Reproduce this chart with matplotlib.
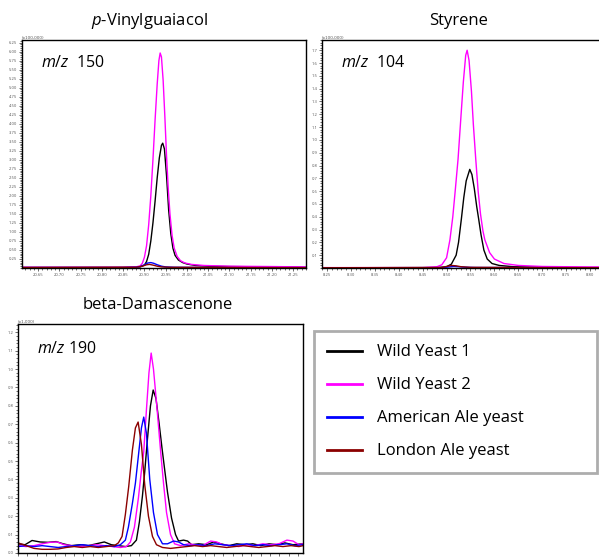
import numpy as np
import matplotlib
matplotlib.use("Agg")
import matplotlib.pyplot as plt
from matplotlib.ticker import MultipleLocator, NullFormatter

plt.rcParams['font.family'] = ['Open Sans', 'DejaVu Sans']
plt.rcParams['mathtext.fontset'] = 'custom'
plt.rcParams['mathtext.rm'] = 'Open Sans'
plt.rcParams['mathtext.it'] = 'Open Sans:italic'

labels = ["Wild Yeast 1", "Wild Yeast 2", "American Ale yeast", "London Ale yeast"]
colors = ["#000000", "#ff00ff", "#0000ff", "#8b0000"]

# p-Vinylguaiacol, m/z 150 (time in min, intensity x100,000)
pvg_t1 = [20.612, 20.85, 20.89, 20.90, 20.905, 20.91, 20.915, 20.92, 20.925, 20.93, 20.935,
          20.94, 20.943, 20.947, 20.952, 20.957, 20.962, 20.967, 20.972, 20.98, 20.99,
          21.00, 21.02, 21.05, 21.10, 21.20, 21.28]
pvg_y1 = [0.02, 0.02, 0.03, 0.08, 0.18, 0.38, 0.75, 1.25, 1.85, 2.50, 3.05,
          3.40, 3.46, 3.30, 2.55, 1.60, 0.95, 0.55, 0.35, 0.22, 0.15,
          0.11, 0.07, 0.05, 0.04, 0.03, 0.02]
pvg_t2 = [20.612, 20.85, 20.88, 20.89, 20.895, 20.90, 20.905, 20.91, 20.915, 20.92, 20.925,
          20.93, 20.934, 20.937, 20.94, 20.944, 20.948, 20.952, 20.956, 20.96, 20.965,
          20.97, 20.977, 20.985, 20.995, 21.01, 21.04, 21.10, 21.20, 21.28]
pvg_y2 = [0.02, 0.02, 0.03, 0.06, 0.13, 0.30, 0.62, 1.20, 2.00, 3.00, 4.10,
          5.10, 5.75, 5.96, 5.85, 5.20, 4.20, 3.10, 2.20, 1.50, 0.90,
          0.55, 0.32, 0.20, 0.14, 0.10, 0.07, 0.05, 0.04, 0.03]
pvg_t3 = [20.612, 20.85, 20.88, 20.89, 20.90, 20.908, 20.915, 20.922, 20.93, 20.94, 20.95,
          20.97, 21.10, 21.28]
pvg_y3 = [0.01, 0.01, 0.02, 0.04, 0.09, 0.14, 0.15, 0.13, 0.09, 0.05, 0.03,
          0.02, 0.01, 0.01]
pvg_t4 = [20.612, 20.88, 20.895, 20.905, 20.912, 20.92, 20.93, 20.94, 20.96, 21.28]
pvg_y4 = [0.01, 0.02, 0.05, 0.09, 0.10, 0.08, 0.05, 0.03, 0.02, 0.01]

# Styrene, m/z 104 (time in min, intensity x100,000)
sty_t1 = [8.2395, 8.48, 8.50, 8.51, 8.52, 8.525, 8.531, 8.536, 8.541, 8.5485, 8.553,
          8.558, 8.563, 8.567, 8.572, 8.578, 8.585, 8.595, 8.61, 8.64, 8.70, 8.825]
sty_y1 = [0.002, 0.003, 0.01, 0.03, 0.10, 0.20, 0.385, 0.55, 0.68, 0.77, 0.73,
          0.62, 0.48, 0.385, 0.26, 0.14, 0.07, 0.035, 0.02, 0.01, 0.006, 0.004]
sty_t2 = [8.2395, 8.45, 8.48, 8.49, 8.50, 8.507, 8.513, 8.518, 8.524, 8.53, 8.535,
          8.54, 8.543, 8.547, 8.552, 8.556, 8.561, 8.566, 8.571, 8.576, 8.58,
          8.59, 8.60, 8.62, 8.65, 8.70, 8.80, 8.825]
sty_y2 = [0.003, 0.003, 0.01, 0.025, 0.08, 0.22, 0.40, 0.60, 0.85, 1.18, 1.45,
          1.66, 1.70, 1.62, 1.38, 1.12, 0.85, 0.60, 0.42, 0.29, 0.22,
          0.12, 0.07, 0.035, 0.02, 0.012, 0.008, 0.008]
sty_t3 = [8.2395, 8.49, 8.505, 8.515, 8.525, 8.54, 8.56, 8.825]
sty_y3 = [0.002, 0.003, 0.008, 0.012, 0.01, 0.006, 0.004, 0.002]
sty_t4 = [8.2395, 8.49, 8.50, 8.51, 8.52, 8.53, 8.55, 8.825]
sty_y4 = [0.002, 0.004, 0.012, 0.02, 0.017, 0.01, 0.005, 0.002]

# beta-Damascenone, m/z 190 (scan position, intensity x1,000)
dam_t1 = [0.0, 0.7, 1.4, 2.2, 3.0, 3.8, 4.5, 5.3, 6.2, 7.0, 7.8, 8.6, 9.3, 10.0, 10.7,
          11.3, 11.8, 12.1, 12.4, 12.63, 12.9, 13.2, 13.47, 13.75, 14.05, 14.35, 14.6,
          14.9, 15.3, 15.7, 16.0, 16.5, 16.9, 17.3, 18.0, 18.8, 19.5, 20.2, 21.0, 21.8,
          22.6, 23.4, 24.2, 25.0, 25.8, 26.6, 27.4, 28.4]
dam_y1 = [0.05, 0.045, 0.068, 0.06, 0.058, 0.062, 0.05, 0.04, 0.045, 0.04, 0.05, 0.06, 0.045, 0.04, 0.035,
          0.04, 0.07, 0.17, 0.31, 0.443, 0.62, 0.80, 0.886, 0.84, 0.71, 0.57, 0.46,
          0.33, 0.19, 0.10, 0.065, 0.07, 0.065, 0.045, 0.05, 0.045, 0.06, 0.05, 0.04, 0.05,
          0.045, 0.05, 0.04, 0.05, 0.045, 0.055, 0.045, 0.05]
dam_t2 = [0.0, 0.8, 1.6, 2.4, 3.2, 3.9, 4.6, 5.4, 6.2, 7.0, 7.8, 8.6, 9.4, 10.2, 10.8,
          11.2, 11.6, 12.0, 12.3, 12.53, 12.8, 13.05, 13.27, 13.5, 13.8, 14.2, 14.5,
          14.8, 15.2, 15.6, 16.2, 17.0, 17.6, 18.4, 19.2, 19.8, 20.4, 21.2, 22.0, 22.8,
          23.6, 24.4, 25.2, 26.0, 26.8, 27.4, 28.0, 28.4]
dam_y2 = [0.04, 0.035, 0.04, 0.05, 0.058, 0.06, 0.045, 0.04, 0.035, 0.04, 0.045, 0.04, 0.035, 0.03, 0.035,
          0.06, 0.14, 0.30, 0.45, 0.55, 0.78, 0.98, 1.087, 1.00, 0.82, 0.56, 0.38,
          0.22, 0.10, 0.05, 0.04, 0.05, 0.045, 0.04, 0.065, 0.06, 0.045, 0.04, 0.035, 0.045,
          0.04, 0.05, 0.045, 0.05, 0.07, 0.065, 0.045, 0.05]
dam_t3 = [0.0, 0.8, 1.6, 2.4, 3.2, 4.0, 4.8, 5.6, 6.4, 7.2, 8.0, 8.8, 9.6, 10.2, 10.7,
          11.0, 11.4, 11.7, 12.0, 12.3, 12.53, 12.8, 13.13, 13.5, 13.9, 14.4, 14.9,
          15.5, 16.0, 16.5, 17.2, 18.0, 18.8, 19.6, 20.4, 21.2, 22.0, 22.8, 23.6, 24.4,
          25.2, 26.0, 26.8, 27.6, 28.4]
dam_y3 = [0.035, 0.04, 0.035, 0.04, 0.035, 0.03, 0.035, 0.04, 0.045, 0.04, 0.035, 0.04, 0.035, 0.045, 0.07,
          0.14, 0.27, 0.38, 0.53, 0.68, 0.739, 0.65, 0.40, 0.22, 0.10, 0.05, 0.05,
          0.065, 0.06, 0.045, 0.04, 0.045, 0.04, 0.05, 0.045, 0.04, 0.045, 0.05, 0.04, 0.045,
          0.04, 0.045, 0.05, 0.04, 0.045]
dam_t4 = [0.0, 0.8, 1.6, 2.4, 3.2, 4.0, 4.8, 5.6, 6.4, 7.2, 8.0, 8.8, 9.6, 10.0, 10.37,
          10.7, 11.03, 11.4, 11.7, 11.97, 12.3, 12.63, 13.0, 13.4, 13.8, 14.4, 15.2,
          16.0, 16.8, 17.6, 18.4, 19.2, 20.0, 20.8, 21.6, 22.4, 23.2, 24.0, 24.8, 25.6,
          26.4, 27.2, 28.0, 28.4]
dam_y4 = [0.055, 0.04, 0.025, 0.02, 0.02, 0.022, 0.03, 0.035, 0.03, 0.035, 0.03, 0.035, 0.04, 0.055, 0.09,
          0.21, 0.36, 0.56, 0.68, 0.712, 0.59, 0.37, 0.20, 0.09, 0.045, 0.03, 0.025,
          0.03, 0.035, 0.04, 0.035, 0.04, 0.035, 0.03, 0.035, 0.04, 0.035, 0.03, 0.035, 0.04,
          0.035, 0.04, 0.035, 0.04]

W, H = 599, 557
fig = plt.figure(figsize=(W / 100, H / 100), dpi=100)


def add_ax(l, t, r, b):
    return fig.add_axes([l / W, 1 - b / H, (r - l) / W, (b - t) / H])


def style_ax(ax, xmaj, xmin, ymaj, ymin, fmt_x, fmt_y, mult):
    ax.xaxis.set_major_locator(MultipleLocator(xmaj))
    ax.xaxis.set_minor_locator(MultipleLocator(xmin))
    ax.yaxis.set_major_locator(MultipleLocator(ymaj))
    ax.yaxis.set_minor_locator(MultipleLocator(ymin))
    if fmt_x:
        ax.xaxis.set_major_formatter(fmt_x)
    else:
        ax.xaxis.set_major_formatter(NullFormatter())
    ax.yaxis.set_major_formatter(fmt_y)
    ax.tick_params(which='both', direction='out', labelsize=3, labelcolor='#555555',
                   pad=1, width=0.5, color='#333333')
    ax.tick_params(which='major', length=2.5)
    ax.tick_params(which='minor', length=1.5)
    for s in ax.spines.values():
        s.set_linewidth(1.0)
    ax.text(0.0, 1.0, mult, transform=ax.transAxes, fontsize=3, color='#555555',
            ha='left', va='bottom', family='DejaVu Sans')


def draw(ax, series):
    for (t, y), c, lab in zip(series, colors, labels):
        ax.plot(t, y, color=c, lw=1.0, label=lab)


# p-Vinylguaiacol
ax1 = add_ax(22, 40, 306, 268)
draw(ax1, [(pvg_t1, pvg_y1), (pvg_t2, pvg_y2), (pvg_t3, pvg_y3), (pvg_t4, pvg_y4)])
ax1.set_xlim(20.612, 21.28)
ax1.set_ylim(0, 6.32)
style_ax(ax1, 0.05, 0.01, 0.25, 0.05, '{x:.2f}', '{x:.2f}', '(x100,000)')
ax1.set_yticks(np.arange(0.25, 6.3, 0.25))
ax1.set_title('$\\mathit{p}$-Vinylguaiacol', fontsize=12, pad=11, x=0.45)
ax1.text(0.067, 0.9, '$\\mathit{m/z}$  150', transform=ax1.transAxes, fontsize=11.5,
         va='center', ha='left')

# Styrene
ax2 = add_ax(322, 40, 602, 268)
draw(ax2, [(sty_t1, sty_y1), (sty_t2, sty_y2), (sty_t3, sty_y3), (sty_t4, sty_y4)])
ax2.set_xlim(8.2395, 8.825)
ax2.set_ylim(0, 1.78)
style_ax(ax2, 0.05, 0.01, 0.1, 0.02, '{x:.2f}', '{x:.1f}', '(x100,000)')
ax2.set_yticks(np.arange(0.1, 1.75, 0.1))
ax2.set_title('Styrene', fontsize=12, pad=11, x=0.487)
ax2.text(0.068, 0.9, '$\\mathit{m/z}$  104', transform=ax2.transAxes, fontsize=11.5,
         va='center', ha='left')

# beta-Damascenone
ax3 = add_ax(18, 324, 303, 553)
draw(ax3, [(dam_t1, dam_y1), (dam_t2, dam_y2), (dam_t3, dam_y3), (dam_t4, dam_y4)])
ax3.set_xlim(0, 28.4)
ax3.set_ylim(0, 1.245)
style_ax(ax3, 0.93, 0.93, 0.1, 0.02, None, '{x:.1f}', '(x1,000)')
ax3.set_yticks(np.arange(0.0, 1.25, 0.1))
ax3.set_title('beta-Damascenone', fontsize=12, pad=11, x=0.49)
ax3.text(0.067, 0.89, '$\\mathit{m/z}$ 190', transform=ax3.transAxes, fontsize=11.5,
         va='center', ha='left')

handles, labs = ax1.get_legend_handles_labels()
leg = fig.legend(handles, labs, loc='upper left',
                 bbox_to_anchor=(314 / W, 1 - 470 / H, 283 / W, 139 / H), mode='expand',
                 borderaxespad=0, fontsize=12, frameon=True, fancybox=False,
                 labelspacing=1.02, handlelength=2.1, handletextpad=0.9, borderpad=0.8)
leg.get_frame().set_edgecolor('#999999')
leg.get_frame().set_linewidth(2)
for line in leg.get_lines():
    line.set_linewidth(2)

fig.savefig('out.png', dpi=100)
